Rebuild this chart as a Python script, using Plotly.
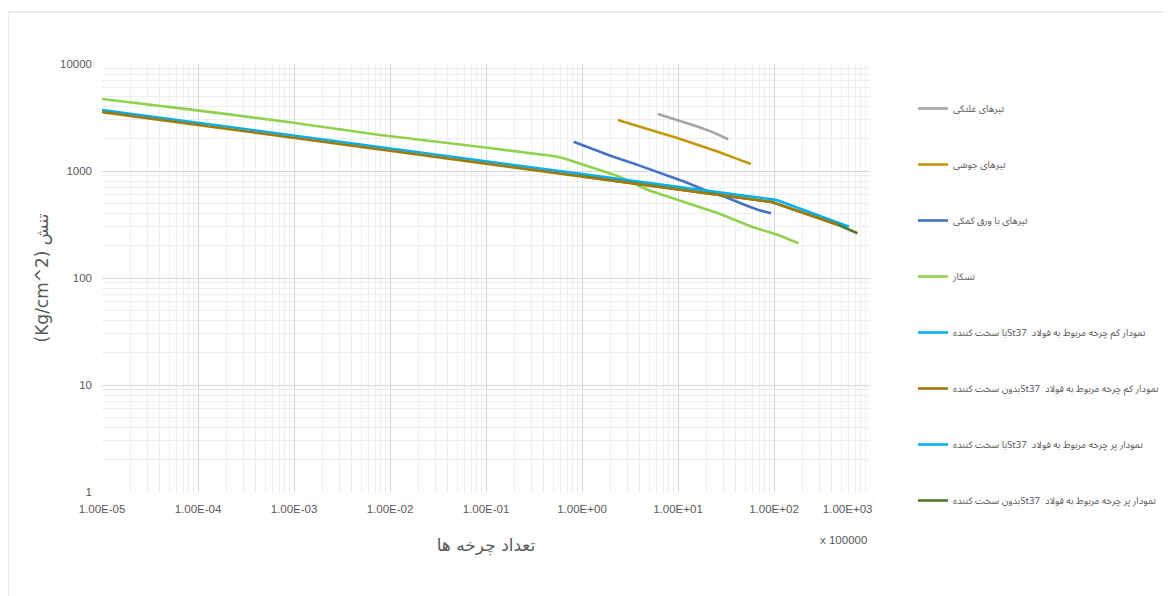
import plotly.graph_objects as go

# ---------------- data ----------------
rolled_x = [6.19, 8.53, 11.7, 16.2, 22.3, 33.4]
rolled_y = [3412, 3112, 2891, 2596, 2333, 1982]

welded_x = [2.36, 3.83, 6.19, 10.0, 16.2, 26.2, 42.6, 57.5]
welded_y = [3000, 2636, 2328, 2023, 1750, 1514, 1285, 1161]

cover_x = [0.818, 1.24, 2.01, 3.26, 5.27, 8.53, 11.7, 19.0, 30.8, 49.9, 68.9, 93.3]
cover_y = [1879, 1629, 1380, 1197, 1021, 885, 794, 664, 575, 481, 432, 403]

groove_x = [1e-5, 2.44e-5, 1.035e-4, 9.04e-4, 7.9e-3, 0.103, 0.30, 0.50, 0.62,
            1.06, 2.36, 4.86, 11.7, 26.2, 58.6, 111, 180]
groove_y = [4710, 4295, 3665, 2853, 2170, 1651, 1470, 1380, 1330,
            1140, 897, 664, 516, 403, 301, 252, 211]

low_with_x = [1e-5, 1.0]
low_with_y = [3720, 935]

low_without_x = [1e-5, 1.0, 95, 470]
low_without_y = [3550, 891, 513, 313]

high_with_x = [1.0, 107, 604]
high_with_y = [935, 536, 301]

high_without_x = [1.0, 95, 470, 740]
high_without_y = [891, 513, 313, 262]

x_tickvals = [1e-5, 1e-4, 1e-3, 1e-2, 1e-1, 1e0, 1e1, 1e2, 1e3]
x_ticktext = ["1.00E-05", "1.00E-04", "1.00E-03", "1.00E-02", "1.00E-01",
              "1.00E+00", "1.00E+01", "1.00E+02", "1.00E+03"]
y_tickvals = [1, 10, 100, 1000, 10000]
y_ticktext = ["1", "10", "100", "1000", "10000"]

RLE, PDF = "\u202b", "\u202c"
names = [
    "تیرهای غلتکی",
    "تیرهای جوشی",
    "تیرهای با ورق کمکی",
    "نسکار",
    "نمودار کم چرخه مربوط به فولاد  St37با سخت کننده",
    "نمودار کم چرخه مربوط به فولاد  St37بدون سخت کننده",
    "نمودار پر چرخه مربوط به فولاد  St37با سخت کننده",
    "نمودار پر چرخه مربوط به فولاد  St37بدون سخت کننده",
]
colors = ["#A5A5A5", "#C4960C", "#4472C4", "#92D050",
          "#00B0F0", "#A07A06", "#00B0F0", "#4F7A2C"]

series = [
    (rolled_x, rolled_y), (welded_x, welded_y), (cover_x, cover_y),
    (groove_x, groove_y), (low_with_x, low_with_y),
    (low_without_x, low_without_y), (high_with_x, high_with_y),
    (high_without_x, high_without_y),
]
# drawing order (brown on top of dark green), legend order via legendrank
draw_order = [0, 1, 2, 3, 4, 6, 7, 5]

fig = go.Figure()
for i in draw_order:
    xs, ys = series[i]
    fig.add_trace(go.Scatter(
        x=xs, y=ys, mode="lines", name=RLE + names[i] + PDF,
        line=dict(color=colors[i], width=2.6),
        legendgroup="g%d" % i, legendrank=i + 1,
    ))

# page body has an 8px margin: work in screen pixels and subtract it
OFF = 8
W, H = 1171 - OFF, 596 - OFF
L, R, T, B = 102 - OFF, 870 - OFF, 64 - OFF, 492 - OFF
pw, ph = R - L, B - T

def px(x):  # screen x -> paper
    return (x - OFF - L) / pw

def py(y):  # screen y -> paper
    return (B - (y - OFF)) / ph

minor_x = [k * 10.0 ** e for e in range(-5, 3) for k in range(2, 10)]
minor_y = [k * 10.0 ** e for e in range(0, 4) for k in range(2, 10)]

x_ticktext_shown = x_ticktext[:-1] + [x_ticktext[-1] + "\u00a0" * 14]

tickfont = dict(family="Liberation Sans, Arial, sans-serif", size=11.5, color="#595959")

fig.update_layout(
    width=W, height=H,
    margin=dict(l=L, r=W - R, t=T, b=H - B, autoexpand=False),
    paper_bgcolor="white", plot_bgcolor="white",
    showlegend=True,
    legend=dict(
        x=px(913), y=py(94), xanchor="left", yanchor="top",
        font=dict(family="Noto Sans Arabic, Noto Naskh Arabic, DejaVu Sans, sans-serif",
                  size=9.6, color="#595959"),
        tracegroupgap=37, itemwidth=30, bgcolor="rgba(0,0,0,0)",
        maxheight=560,
    ),
    xaxis=dict(
        type="log", range=[-5, 3], tickvals=x_tickvals, ticktext=x_ticktext_shown,
        tickfont=tickfont, showgrid=True, gridcolor="#d9d9d9", gridwidth=1,
        zeroline=False, showline=False, ticks="", ticklabelstandoff=8,
        minor=dict(tickvals=minor_x, showgrid=True, gridcolor="#eeeeee", gridwidth=1, ticks=""),
        title=dict(text="تعداد چرخه ها", standoff=25,
                   font=dict(family="DejaVu Sans, sans-serif", size=17, color="#595959")),
    ),
    yaxis=dict(
        type="log", range=[0, 4], tickvals=y_tickvals, ticktext=y_ticktext,
        tickfont=tickfont, showgrid=True, gridcolor="#d9d9d9", gridwidth=1,
        zeroline=False, showline=False, ticks="", ticklabelstandoff=9,
        minor=dict(tickvals=minor_y, showgrid=True, gridcolor="#eeeeee", gridwidth=1, ticks=""),
        title=dict(text="(Kg/cm^2) تنش", standoff=7,
                   font=dict(family="DejaVu Sans, sans-serif", size=17, color="#595959")),
    ),
    annotations=[dict(
        text="x 100000", x=px(843), y=py(540), xref="paper", yref="paper",
        showarrow=False, xanchor="center", yanchor="middle",
        font=dict(family="Liberation Sans, Arial, sans-serif", size=11.5, color="#595959"),
    )],
    shapes=[
        dict(type="line", xref="paper", yref="paper", x0=px(8), x1=px(1171 + 5), y0=py(12), y1=py(12),
             line=dict(color="#d9d9d9", width=1)),
        dict(type="line", xref="paper", yref="paper", x0=px(8), x1=px(8), y0=py(12), y1=py(596 + 5),
             line=dict(color="#d9d9d9", width=1)),
    ],
)

fig.write_html("out.html")
